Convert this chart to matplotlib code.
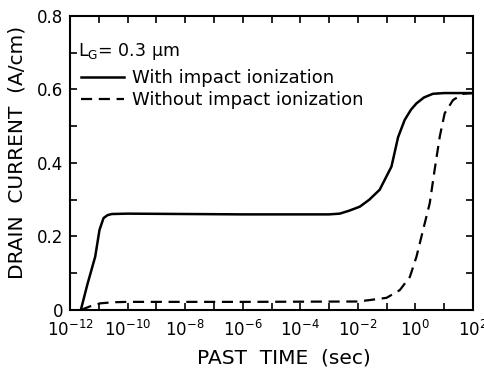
import numpy as np
import matplotlib.pyplot as plt
from matplotlib.ticker import FixedLocator, FuncFormatter

# log10(time) and drain current (A/cm)
with_log_t = [-11.63, -11.4, -11.13, -10.98, -10.84, -10.7, -10.55, -10.0, -6.0,
              -3.0, -2.63, -2.3, -1.93, -1.6, -1.24, -0.83, -0.6, -0.37, -0.15,
              0.04, 0.3, 0.61, 1.0, 2.0]
with_ii = [0.0, 0.07, 0.145, 0.218, 0.25, 0.258, 0.261, 0.262, 0.26,
           0.26, 0.262, 0.27, 0.281, 0.3, 0.327, 0.39, 0.47, 0.517, 0.545,
           0.562, 0.578, 0.588, 0.59, 0.59]

without_log_t = [-11.63, -11.3, -10.96, -10.5, -10.0, -6.0, -2.0, -1.58, -1.0,
                 -0.54, -0.19, 0.04, 0.27, 0.5, 0.67, 0.85, 1.02, 1.31, 1.66, 2.0]
without_ii = [0.0, 0.01, 0.018, 0.021, 0.022, 0.022, 0.023, 0.027, 0.033,
              0.054, 0.09, 0.145, 0.218, 0.29, 0.381, 0.472, 0.535, 0.571, 0.588, 0.59]

x_ticks = list(range(-12, 3))
y_ticks = [0.0, 0.1, 0.2, 0.3, 0.4, 0.5, 0.6, 0.7, 0.8]

fig = plt.figure(figsize=(4.84, 3.69), dpi=100)
ax = fig.add_axes([0.145, 0.16, 0.832, 0.797])

ax.plot(10.0 ** np.array(with_log_t), with_ii, color='black', lw=1.8,
        label='With impact ionization')
ax.plot(10.0 ** np.array(without_log_t), without_ii, color='black', lw=1.6,
        dashes=(5, 3), label='Without impact ionization')

ax.set_xscale('log')
ax.set_xlim(1e-12, 1e2)
ax.set_ylim(0, 0.8)

ax.xaxis.set_major_locator(FixedLocator([10.0 ** e for e in x_ticks]))
ax.xaxis.set_minor_locator(FixedLocator([]))
ax.xaxis.set_major_formatter(FuncFormatter(
    lambda v, p: r'$\mathregular{10^{%d}}$' % round(np.log10(v)) if round(np.log10(v)) % 2 == 0 else ''))
ax.yaxis.set_major_locator(FixedLocator(y_ticks))
ax.yaxis.set_major_formatter(FuncFormatter(
    lambda v, p: '' if round(v * 10) % 2 else ('0' if v == 0 else '%.1f' % v)))

ax.tick_params(direction='in', top=True, right=True, length=5, width=1.2,
               labelsize=12, pad=5)
ax.tick_params(axis='x', pad=7)
for s in ax.spines.values():
    s.set_linewidth(1.5)

ax.set_xlabel('PAST  TIME  (sec)', fontsize=14.5)
ax.xaxis.set_label_coords(0.53, -0.13)
ax.set_ylabel('DRAIN  CURRENT  (A/cm)', fontsize=14.5)
ax.yaxis.set_label_coords(-0.108, 0.535)

ax.text(0.02, 0.88, r'L$_\mathregular{G}$= 0.3 μm', transform=ax.transAxes,
        fontsize=12.5, va='center', ha='left')
ax.legend(loc='upper left', bbox_to_anchor=(0.0, 0.855), frameon=False,
          fontsize=13, handlelength=2.4, handletextpad=0.4, labelspacing=0.2,
          borderaxespad=0.2)

fig.savefig('out.png', dpi=100)
